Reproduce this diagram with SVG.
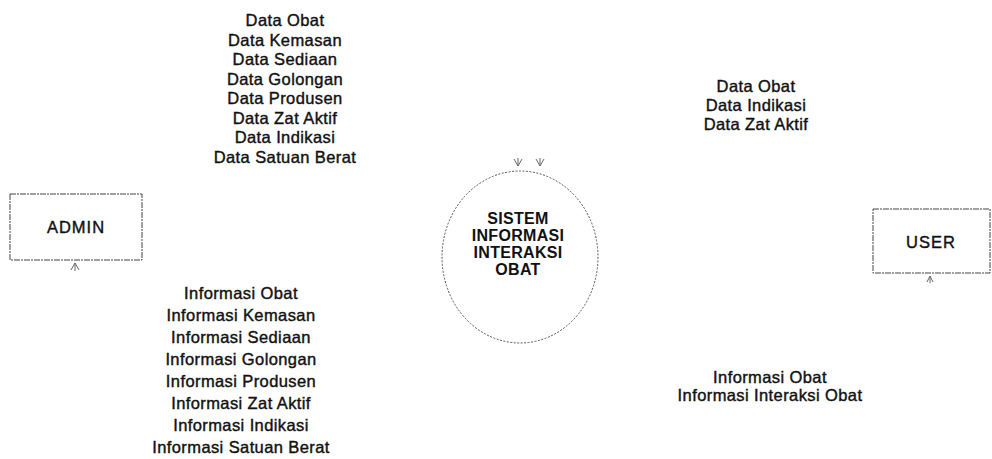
<svg xmlns="http://www.w3.org/2000/svg" width="992" height="459" viewBox="0 0 992 459">
  <style>
    .lbl { font-family: "Liberation Sans", Arial, sans-serif; font-size: 16.5px; fill: #111; text-anchor: middle; letter-spacing: 0.4px; stroke: #111; stroke-width: 0.4; }
    .ent { fill: #fff; stroke: #444; stroke-width: 1; stroke-dasharray: 6 1 2 1; }
    .proc { fill: #fff; stroke: #555; stroke-width: 1; stroke-dasharray: 2 1.5; }
    .ptxt { font-family: "Liberation Sans", Arial, sans-serif; font-size: 16px; font-weight: bold; fill: #111; text-anchor: middle; letter-spacing: 0.3px; }
    .ah { fill: none; stroke: #666; stroke-width: 1; }
  </style>

  <g id="connectors">
    <path class="ah" d="M514,159 L518,166 L522,159 M518,158 L518,166"/>
    <path class="ah" d="M536,159 L540,166 L544,159 M540,158 L540,166"/>
    <path class="ah" d="M71,270 L75,263 L79,270 M75,263 L75,271"/>
    <path class="ah" d="M927,282 L930,276 L933,282 M930,276 L930,283"/>
  </g>

  <g id="admin">
    <rect class="ent" x="10" y="194" width="132" height="66"/>
    <text class="lbl" x="76" y="233" style="letter-spacing:1px">ADMIN</text>
  </g>

  <g id="user">
    <rect class="ent" x="873" y="209" width="117" height="64"/>
    <text class="lbl" x="931" y="248" style="letter-spacing:1px">USER</text>
  </g>

  <g id="sistem">
    <ellipse class="proc" cx="520" cy="257" rx="78" ry="86"/>
    <text class="ptxt" x="518" y="224">SISTEM</text>
    <text class="ptxt" x="518" y="241">INFORMASI</text>
    <text class="ptxt" x="518" y="258">INTERAKSI</text>
    <text class="ptxt" x="518" y="275">OBAT</text>
  </g>

  <g id="label-admin-in">
    <text class="lbl" x="285" y="26">Data Obat</text>
    <text class="lbl" x="285" y="45.5">Data Kemasan</text>
    <text class="lbl" x="285" y="65">Data Sediaan</text>
    <text class="lbl" x="285" y="84.5">Data Golongan</text>
    <text class="lbl" x="285" y="104">Data Produsen</text>
    <text class="lbl" x="285" y="123.5">Data Zat Aktif</text>
    <text class="lbl" x="285" y="143">Data Indikasi</text>
    <text class="lbl" x="285" y="162.5">Data Satuan Berat</text>
  </g>

  <g id="label-admin-out">
    <text class="lbl" x="241" y="299">Informasi Obat</text>
    <text class="lbl" x="241" y="321">Informasi Kemasan</text>
    <text class="lbl" x="241" y="343">Informasi Sediaan</text>
    <text class="lbl" x="241" y="365">Informasi Golongan</text>
    <text class="lbl" x="241" y="387">Informasi Produsen</text>
    <text class="lbl" x="241" y="409">Informasi Zat Aktif</text>
    <text class="lbl" x="241" y="431">Informasi Indikasi</text>
    <text class="lbl" x="241" y="453">Informasi Satuan Berat</text>
  </g>

  <g id="label-user-in">
    <text class="lbl" x="756" y="92">Data Obat</text>
    <text class="lbl" x="756" y="111">Data Indikasi</text>
    <text class="lbl" x="756" y="130">Data Zat Aktif</text>
  </g>

  <g id="label-user-out">
    <text class="lbl" x="770" y="383">Informasi Obat</text>
    <text class="lbl" x="770" y="401">Informasi Interaksi Obat</text>
  </g>
</svg>
